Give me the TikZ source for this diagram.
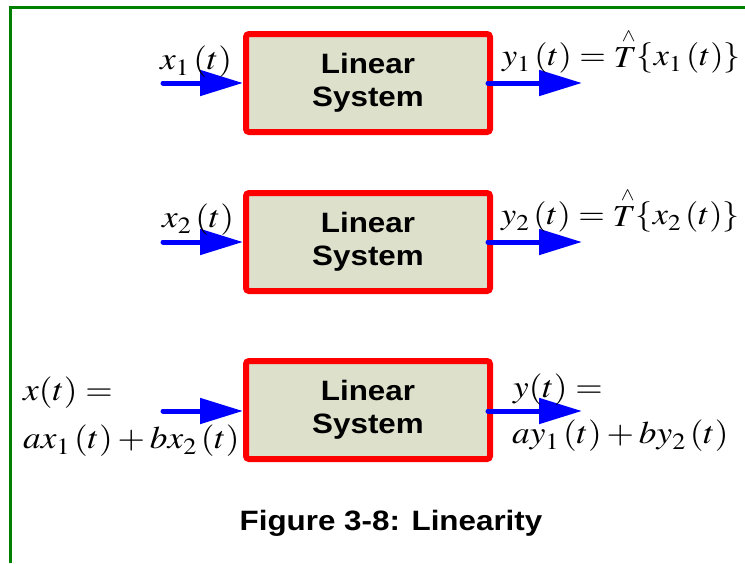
\documentclass[tikz,border=0pt]{standalone}
\usepackage{mathptmx}
\usepackage[no-math]{fontspec}
\usepackage{graphicx}
\usetikzlibrary{arrows.meta}
\newfontfamily\boxfont{Liberation Sans}[FakeStretch=1.12]
\definecolor{boxfill}{HTML}{DDE0CB}
\definecolor{framegreen}{HTML}{008000}
\newcommand\mth[2][31.5]{\scalebox{1.12}[1]{\fontsize{#1}{36}\selectfont$#2$}}
\newcommand\sbx[1]{_{\raisebox{-2pt}{$\scriptstyle #1$}}}
\newcommand\That{{\stackrel{\scriptscriptstyle\wedge}{T}}}
\tikzset{
  sysbox/.style={draw=red, fill=boxfill, line width=6pt, rounded corners=3pt,
    minimum width=244pt, minimum height=98pt, inner sep=0pt, align=center,
    font=\boxfont\bfseries\fontsize{28}{33}\selectfont},
  sig/.style={draw=blue, line width=5pt, line cap=round,
    -{Triangle[length=43pt,width=25pt]}},
  lbl/.style={anchor=base west, inner sep=0pt}
}
\begin{document}
\begin{tikzpicture}[x=1pt,y=-1pt]
\useasboundingbox (0,0) rectangle (745,563);
% frame
\coordinate (fA) at (745,7);
\coordinate (fB) at (10.5,7);
\coordinate (fC) at (10.5,563);
\draw[framegreen, line width=3pt] (fA) -- (fB) -- (fC);
% boxes
\node[sysbox] (b1) at (368,83) {Linear\\System};
\node[sysbox] (b2) at (368,242) {Linear\\System};
\node[sysbox] (b3) at (368,410) {Linear\\System};
% coordinates
\coordinate (i1) at (163,83);
\coordinate (o1) at (582,83);
\coordinate (i2) at (163,242);
\coordinate (o2) at (582,242);
\coordinate (i3) at (163,411);
\coordinate (o3) at (582,411);
\draw[sig] (i1) -- (b1.west);
\draw[sig] ([xshift=-5pt]b1.east) -- (o1);
\draw[sig] (i2) -- (b2.west);
\draw[sig] ([xshift=-5pt]b2.east) -- (o2);
\draw[sig] (i3) -- (b3.west|-i3);
\draw[sig] ([xshift=-5pt]b3.east|-o3) -- (o3);
% labels
\node[lbl] (l1) at (160,69) {\mth{x\sbx{1}\,(t)}};
\node[lbl] (r1) at (502,65) {\mth[30.5]{y\sbx{1}\,(t)=\That\{x\sbx{1}\,(t)\}}};
\node[lbl] (l2) at (162,227) {\mth{x\sbx{2}\,(t)}};
\node[lbl] (r2) at (501,224) {\mth[30.5]{y\sbx{2}\,(t)=\That\{x\sbx{2}\,(t)\}}};
\node[lbl] (l3a) at (23,400) {\mth{x(t)=}};
\node[lbl] (l3b) at (23,448) {\mth{ax\sbx{1}\,(t)+bx\sbx{2}\,(t)}};
\node[lbl] (r3a) at (513,397) {\mth{y(t)=}};
\node[lbl] (r3b) at (512,443) {\mth{ay\sbx{1}\,(t)+by\sbx{2}\,(t)}};
% caption
\node[anchor=base, inner sep=0pt, font=\boxfont\bfseries\fontsize{28}{33}\selectfont] (cap) at (391,530) {Figure 3-8: Linearity};
\end{tikzpicture}
\end{document}
